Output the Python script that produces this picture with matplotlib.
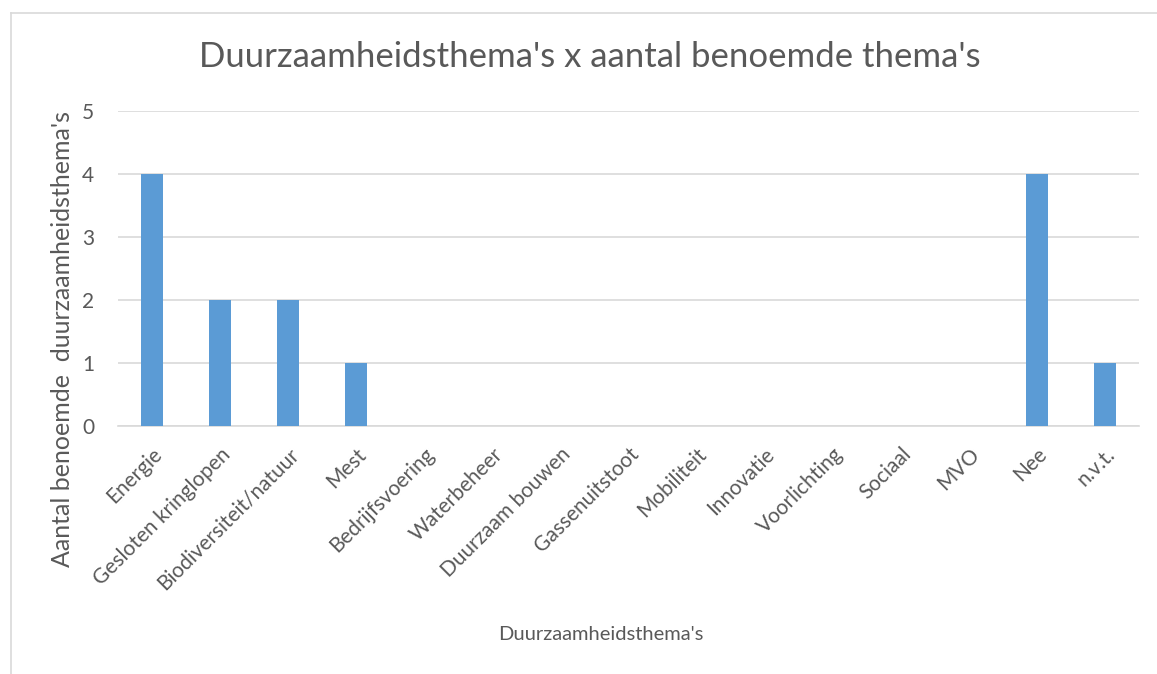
import matplotlib.pyplot as plt
from matplotlib.lines import Line2D

# data
categories = ['Energie', 'Gesloten kringlopen', 'Biodiversiteit/natuur', 'Mest',
              'Bedrijfsvoering', 'Waterbeheer', 'Duurzaam bouwen', 'Gassenuitstoot',
              'Mobiliteit', 'Innovatie', 'Voorlichting', 'Sociaal', 'MVO', 'Nee', 'n.v.t.']
counts = [4, 2, 2, 1, 0, 0, 0, 0, 0, 0, 0, 0, 0, 4, 1]

plt.rcParams['font.family'] = ['Lato', 'DejaVu Sans']
grey = '#595959'

fig = plt.figure(figsize=(11.57, 6.74), dpi=100)
ax = fig.add_axes([118/1157, (674-426)/674, (1139-118)/1157, (426-111)/674])

x = range(len(categories))
ax.bar(x, counts, width=0.32, color='#5B9BD5', zorder=3)

ax.set_xlim(-0.5, len(categories) - 0.5)
ax.set_ylim(0, 5)
ax.set_yticks(range(6))
ax.set_xticks(list(x))
ax.set_xticklabels(categories, rotation=45, ha='right', va='top', rotation_mode='anchor')

ax.grid(axis='y', color='#D9D9D9', linewidth=1.2, zorder=0)
for s in ['top', 'right', 'left']:
    ax.spines[s].set_visible(False)
ax.spines['bottom'].set_color('#D9D9D9')
ax.spines['bottom'].set_linewidth(1.2)
ax.tick_params(axis='both', length=0, labelsize=15, colors=grey)
ax.tick_params(axis='y', pad=17)
ax.tick_params(axis='x', pad=13)

# titels
fig.text(0.51, 0.915, "Duurzaamheidsthema's x aantal benoemde thema's",
         ha='center', va='center', fontsize=25, color=grey)
fig.text(601/1157, (674-634)/674, "Duurzaamheidsthema's",
         ha='center', va='center', fontsize=14.5, color=grey)
fig.text(63/1157, (674-339)/674, "Aantal benoemde  duurzaamheidsthema's",
         ha='center', va='center', rotation=90, fontsize=18, color=grey)

# rand van de grafiek
fig.add_artist(Line2D([11/1157, 11/1157], [0, (674-13)/674], color='#D9D9D9', lw=1.2))
fig.add_artist(Line2D([11/1157, 1], [(674-13)/674, (674-13)/674], color='#D9D9D9', lw=1.2))

fig.savefig('out.png', dpi=100)
